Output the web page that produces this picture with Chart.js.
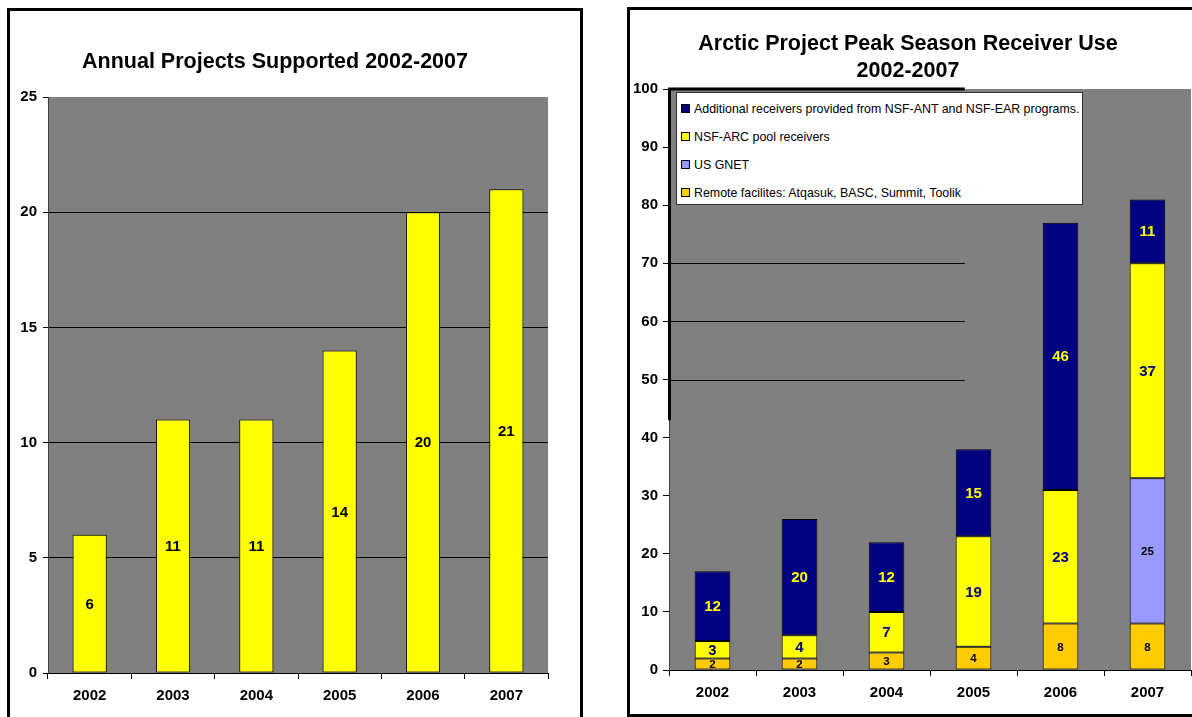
<!DOCTYPE html>
<html>
<head>
<meta charset="utf-8">
<script src="https://cdn.jsdelivr.net/npm/chart.js@4.4.0/dist/chart.umd.min.js"></script>
<style>
  html, body { margin: 0; padding: 0; background: #fff; width: 1192px; height: 717px; overflow: hidden; }
  body { position: relative; font-family: "Liberation Sans", Arial, sans-serif; }
  canvas { position: absolute; }
  .panel { position: absolute; border: 3px solid #000; box-sizing: border-box; }
  .title { position: absolute; font-weight: bold; font-size: 21.5px; color: #000; text-align: center; line-height: 27px; white-space: nowrap; }
  #legend { position: absolute; left: 676px; top: 92px; width: 407px; height: 113px; background: #fff; border: 1px solid #333; box-sizing: border-box; font-size: 12.4px; color: #000; }
  #legend .row { position: absolute; left: 4px; height: 14px; line-height: 14px; white-space: nowrap; }
  #legend .sw { display: inline-block; width: 7px; height: 7px; border: 1px solid #000; margin-right: 4px; vertical-align: 0px; }
</style>
</head>
<body>
<div class="panel" style="left:7px; top:8px; width:576px; height:740px;"></div>
<div class="panel" style="left:627px; top:7px; width:600px; height:710px;"></div>
<canvas id="c1" width="590" height="717" style="left:0; top:0;"></canvas>
<canvas id="c2" width="592" height="717" style="left:600px; top:0;"></canvas>
<div class="title" id="t1" style="left:20px; top:48px; width:510px;"></div>
<div class="title" id="t2" style="left:640px; top:30px; width:536px;"></div>
<div id="legend"></div>
<script>
// ---------- data ----------
const years = ['2002', '2003', '2004', '2005', '2006', '2007'];
const projectsSupported = [6, 11, 11, 14, 20, 21];

const remoteFacilities = [2, 2, 3, 4, 8, 8];
const usGnet = [0, 0, 0, 0, 0, 25];
const arcPool = [3, 4, 7, 19, 23, 37];
const additionalReceivers = [12, 20, 12, 15, 46, 11];

const seriesNames = [
  'Remote facilites: Atqasuk, BASC, Summit, Toolik',
  'US GNET',
  'NSF-ARC pool receivers',
  'Additional receivers provided from NSF-ANT and NSF-EAR programs.'
];
const title1 = 'Annual Projects Supported 2002-2007';
const title2Lines = ['Arctic Project Peak Season Receiver Use', '2002-2007'];
const partialGridValues = [50, 60, 70];

// ---------- styling ----------
const FONT = '"Liberation Sans", Arial, sans-serif';
const GRAY = '#808080';
const seriesColors = ['#FFCC00', '#9999FF', '#FFFF00', '#000080'];
const labelColors = ['#000000', '#000000', '#000080', '#FFFF00'];
const labelSizes = [11.5, 11.5, 15, 15];

Chart.defaults.font.family = FONT;
Chart.defaults.color = '#000';

document.getElementById('t1').textContent = title1;
document.getElementById('t2').innerHTML = title2Lines.map(s => '<div>' + s + '</div>').join('');

const plotBg = {
  id: 'plotBg',
  beforeDraw(chart) {
    const a = chart.chartArea, ctx = chart.ctx;
    ctx.save();
    ctx.fillStyle = GRAY;
    ctx.fillRect(a.left, a.top, a.right - a.left, a.bottom - a.top);
    ctx.restore();
  }
};

const valueLabels = {
  id: 'valueLabels',
  afterDatasetsDraw(chart, args, opts) {
    const ctx = chart.ctx;
    chart.data.datasets.forEach((ds, di) => {
      const meta = chart.getDatasetMeta(di);
      meta.data.forEach((bar, i) => {
        const v = ds.data[i];
        if (!v) return;
        const p = bar.getProps(['x', 'y', 'base'], true);
        ctx.save();
        ctx.font = 'bold ' + opts.sizes[di] + 'px ' + FONT;
        ctx.fillStyle = opts.colors[di];
        ctx.textAlign = 'center';
        ctx.textBaseline = 'middle';
        ctx.fillText(String(v), p.x, (p.y + p.base) / 2 + 1);
        ctx.restore();
      });
    });
  }
};

// ---------- left chart ----------
new Chart(document.getElementById('c1'), {
  type: 'bar',
  data: {
    labels: years,
    datasets: [{
      label: 'Projects',
      data: projectsSupported,
      backgroundColor: '#FFFF00',
      borderColor: '#000',
      borderWidth: 1,
      borderSkipped: false,
      categoryPercentage: 1,
      barPercentage: 0.41
    }]
  },
  options: {
    responsive: false,
    animation: false,
    devicePixelRatio: 1,
    layout: { padding: { top: 97, right: 42, bottom: 0, left: 0 } },
    plugins: {
      legend: { display: false },
      tooltip: { enabled: false },
      valueLabels: { sizes: [15], colors: ['#000'] }
    },
    scales: {
      x: {
        grid: { drawOnChartArea: false, drawTicks: true, tickLength: 6, color: '#000', offset: true },
        border: { color: '#000', width: 1 },
        ticks: { font: { size: 15, weight: 'bold' }, color: '#000', padding: 8 },
        afterFit(s) { s.height = 44; }
      },
      y: {
        min: 0, max: 25,
        grid: {
          color: c => (c.tick && c.tick.value === 25) ? 'rgba(0,0,0,0)' : '#000',
          tickColor: '#000', tickLength: 5, drawTicks: true
        },
        border: { color: '#404040', width: 1 },
        ticks: { stepSize: 5, font: { size: 15, weight: 'bold' }, color: '#000', padding: 6 },
        afterFit(s) { s.width = 48; }
      }
    }
  },
  plugins: [plotBg, valueLabels]
});

// ---------- right chart ----------
const stackData = [remoteFacilities, usGnet, arcPool, additionalReceivers];

const oddLines = {
  id: 'oddLines',
  afterDraw(chart) {
    const ctx = chart.ctx, xs = chart.scales.x, ys = chart.scales.y;
    const a = chart.chartArea;
    const xEnd = xs.getPixelForValue(2.9);
    ctx.save();
    ctx.strokeStyle = '#000';
    ctx.lineWidth = 1;
    partialGridValues.forEach(v => {
      const y = Math.round(ys.getPixelForValue(v)) + 0.5;
      ctx.beginPath(); ctx.moveTo(a.left, y); ctx.lineTo(xEnd, y); ctx.stroke();
    });
    ctx.lineWidth = 3;
    const yTop = ys.getPixelForValue(100);
    ctx.beginPath(); ctx.moveTo(a.left + 0.5, ys.getPixelForValue(43)); ctx.lineTo(a.left + 0.5, yTop); ctx.lineTo(xEnd, yTop); ctx.stroke();
    ctx.restore();
  }
};

new Chart(document.getElementById('c2'), {
  type: 'bar',
  data: {
    labels: years,
    datasets: stackData.map((d, i) => ({
      label: seriesNames[i],
      data: d,
      backgroundColor: seriesColors[i],
      borderColor: '#000',
      borderWidth: 1,
      borderSkipped: false,
      categoryPercentage: 1,
      barPercentage: 0.41
    }))
  },
  options: {
    responsive: false,
    animation: false,
    devicePixelRatio: 1,
    layout: { padding: { top: 89, right: 1, bottom: 0, left: 0 } },
    plugins: {
      legend: { display: false },
      tooltip: { enabled: false },
      valueLabels: { sizes: labelSizes, colors: labelColors }
    },
    scales: {
      x: {
        stacked: true,
        grid: { drawOnChartArea: false, drawTicks: true, tickLength: 6, color: '#000', offset: true },
        border: { color: '#000', width: 1 },
        ticks: { font: { size: 15, weight: 'bold' }, color: '#000', padding: 8 },
        afterFit(s) { s.height = 47; }
      },
      y: {
        stacked: true,
        min: 0, max: 100,
        grid: { color: 'rgba(0,0,0,0)', tickColor: '#000', tickLength: 6, drawTicks: true },
        border: { color: '#404040', width: 1 },
        ticks: { stepSize: 10, font: { size: 15, weight: 'bold' }, color: '#000', padding: 5 },
        afterFit(s) { s.width = 69; }
      }
    }
  },
  plugins: [plotBg, valueLabels, oddLines]
});

// ---------- legend (HTML, built from series arrays) ----------
const legend = document.getElementById('legend');
const order = [3, 2, 1, 0];
order.forEach((si, k) => {
  const row = document.createElement('div');
  row.className = 'row';
  row.style.top = (9 + k * 28) + 'px';
  const sw = document.createElement('span');
  sw.className = 'sw';
  sw.style.background = seriesColors[si];
  row.appendChild(sw);
  row.appendChild(document.createTextNode(seriesNames[si]));
  legend.appendChild(row);
});
</script>
</body>
</html>
